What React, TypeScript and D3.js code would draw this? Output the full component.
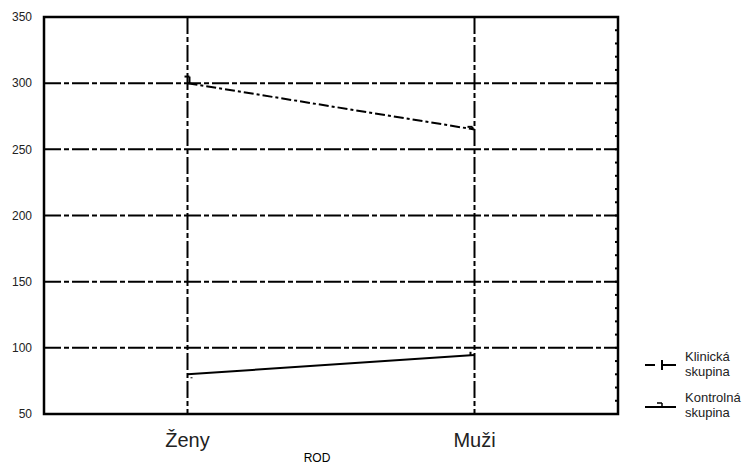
import React from 'react';
import * as d3 from 'd3';

const categories = ['Ženy', 'Muži'];
const klinicka = [300, 265];
const klinickaErr = [305, 267];
const kontrolna = [80, 94.5];
const kontrolnaErr = [77, 97];
const yTicks = [50, 100, 150, 200, 250, 300, 350];
const minorTicks = d3.range(50, 351, 10);

const W = 756, H = 466;
const margin = { top: 17, right: 138, bottom: 52, left: 44 };

const App = () => {
  const x = d3.scalePoint<string>()
    .domain(categories)
    .range([margin.left, W - margin.right])
    .padding(0.5);
  const y = d3.scaleLinear()
    .domain([50, 350])
    .range([H - margin.bottom, margin.top]);

  const line = d3.line<number>()
    .x((_, i) => x(categories[i])!)
    .y(d => y(d));

  const grid = '17,3,5,3';
  const font = 'Liberation Sans, Arial, sans-serif';

  return (
    <svg width={W} height={H} style={{ position: 'absolute', left: 0, top: 0, background: '#fff' }}>
      {/* horizontal gridlines */}
      {yTicks.slice(1, -1).map(t => (
        <line key={t} x1={margin.left} x2={W - margin.right} y1={y(t)} y2={y(t)}
          stroke="#000" strokeWidth={2} strokeDasharray={grid} />
      ))}
      {/* vertical gridlines */}
      {categories.map(c => (
        <line key={c} x1={x(c)} x2={x(c)} y1={margin.top} y2={H - margin.bottom}
          stroke="#000" strokeWidth={2} strokeDasharray={grid} />
      ))}
      {/* minor ticks on right axis */}
      {minorTicks.map(t => (
        <line key={t} x1={W - margin.right - 3} x2={W - margin.right} y1={y(t)} y2={y(t)}
          stroke="#000" strokeWidth={2} />
      ))}
      {/* frame */}
      <rect x={margin.left} y={margin.top} width={W - margin.left - margin.right}
        height={H - margin.top - margin.bottom} fill="none" stroke="#000" strokeWidth={2.5} />
      {/* y tick labels */}
      {yTicks.map(t => (
        <text key={t} x={32} y={y(t)} dy="0.35em" textAnchor="end" fontFamily={font} fontSize={12} fill="#222">{t}</text>
      ))}
      {/* category labels */}
      {categories.map(c => (
        <text key={c} x={x(c)} y={447} textAnchor="middle" fontFamily={font} fontSize={20} fill="#222">{c}</text>
      ))}
      <text x={317} y={462} textAnchor="middle" fontFamily={font} fontSize={12} fill="#000">ROD</text>

      {/* Klinická skupina */}
      <path d={line(klinicka)!} fill="none" stroke="#000" strokeWidth={2} strokeDasharray="10,3,3,3" />
      {klinicka.map((v, i) => {
        const cx = x(categories[i])! + (i === 0 ? 2 : -2);
        return (
          <g key={i}>
            <line x1={cx} x2={cx} y1={y(v)} y2={y(klinickaErr[i])} stroke="#000" strokeWidth={2} />
            <line x1={cx - 5} x2={cx} y1={y(klinickaErr[i])} y2={y(klinickaErr[i])} stroke="#000" strokeWidth={2} />
          </g>
        );
      })}

      {/* Kontrolná skupina */}
      <path d={line(kontrolna)!} fill="none" stroke="#000" strokeWidth={2} />
      {kontrolna.map((v, i) => {
        const cx = x(categories[i])! + (i === 0 ? 4 : -4);
        return (
          <line key={i} x1={cx} x2={cx} y1={y(kontrolnaErr[i])} y2={y(v) + (i === 0 ? 3 : 0)} stroke="#000" strokeWidth={2} />
        );
      })}

      {/* legend */}
      <g fontFamily={font} fontSize={13} fill="#222">
        <line x1={645} x2={655} y1={365} y2={365} stroke="#000" strokeWidth={2} />
        <line x1={662} x2={676} y1={365} y2={365} stroke="#000" strokeWidth={2} />
        <line x1={662} x2={662} y1={360} y2={370} stroke="#000" strokeWidth={2} />
        <text x={685} y={361}>Klinická</text>
        <text x={685} y={376}>skupina</text>
        <line x1={645} x2={676} y1={407} y2={407} stroke="#000" strokeWidth={2} />
        <line x1={657} x2={662} y1={403} y2={403} stroke="#000" strokeWidth={1.5} />
        <line x1={662} x2={662} y1={403} y2={407} stroke="#000" strokeWidth={1.5} />
        <text x={685} y={402}>Kontrolná</text>
        <text x={685} y={417}>skupina</text>
      </g>
    </svg>
  );
};

export default App;
